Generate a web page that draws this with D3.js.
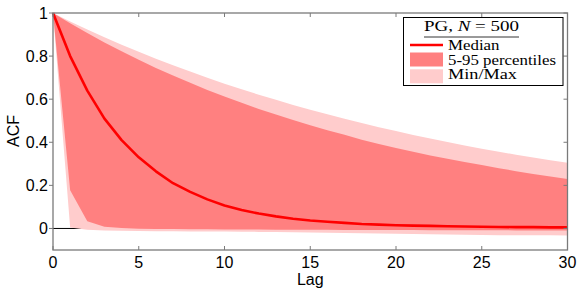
<!DOCTYPE html>
<html><head><meta charset="utf-8">
<script src="https://cdn.jsdelivr.net/npm/d3@7"></script>
<style>body{margin:0;background:#fff}svg{display:block}</style>
</head><body>
<svg id="c" width="581" height="292"></svg>
<script>
const lags = d3.range(0, 31);
const median = [1, 0.80, 0.64, 0.51, 0.41, 0.33, 0.265, 0.21, 0.17, 0.135, 0.107, 0.086, 0.069, 0.056, 0.045, 0.037, 0.031, 0.026, 0.021, 0.018, 0.015, 0.013, 0.012, 0.010, 0.009, 0.008, 0.007, 0.006, 0.006, 0.005, 0.005];
const p95 = [1, 0.952, 0.907, 0.863, 0.822, 0.783, 0.745, 0.710, 0.676, 0.643, 0.613, 0.583, 0.555, 0.529, 0.503, 0.479, 0.456, 0.435, 0.412, 0.392, 0.373, 0.356, 0.339, 0.323, 0.308, 0.294, 0.280, 0.266, 0.253, 0.241, 0.229];
const p5 = [1, 0.177, 0.033, 0.008, 0.002, -0.001, -0.002, -0.003, -0.004, -0.004, -0.005, -0.005, -0.005, -0.006, -0.006, -0.006, -0.006, -0.007, -0.007, -0.007, -0.007, -0.007, -0.008, -0.008, -0.008, -0.008, -0.008, -0.009, -0.009, -0.009, -0.009];
const maxv = [1, 0.961, 0.924, 0.888, 0.853, 0.820, 0.788, 0.757, 0.728, 0.699, 0.672, 0.646, 0.621, 0.597, 0.573, 0.551, 0.530, 0.509, 0.489, 0.470, 0.452, 0.434, 0.417, 0.401, 0.385, 0.370, 0.356, 0.342, 0.329, 0.316, 0.305];
const minv = [1, 0.005, -0.006, -0.009, -0.011, -0.012, -0.013, -0.013, -0.014, -0.014, -0.014, -0.015, -0.016, -0.017, -0.018, -0.019, -0.020, -0.021, -0.022, -0.023, -0.024, -0.026, -0.027, -0.028, -0.029, -0.030, -0.031, -0.031, -0.032, -0.032, -0.033];
const xTicks = [0, 5, 10, 15, 20, 25, 30];
const yTicks = [0, 0.2, 0.4, 0.6, 0.8, 1];
const legendTitle = ["PG, ", "N", " = 500"];
const legendLabels = ["Median", "5-95 percentiles", "Min/Max"];

const svg = d3.select("#c");
const x = d3.scaleLinear().domain([0, 30]).range([53, 567.5]);
const y = d3.scaleLinear().domain([-0.1, 1]).range([250, 13]);
const axisCol = "#7a7a7a";
const cLight = "#ffcccc", cDark = "#ff8080", cMed = "#ff0000";

svg.append("line").attr("x1", x(0)).attr("x2", x(30)).attr("y1", y(0)).attr("y2", y(0))
  .attr("stroke", "#000").attr("stroke-width", 1);

const area = (lo, hi) => d3.area().x((d, i) => x(lags[i])).y0((d, i) => y(lo[i])).y1((d, i) => y(hi[i]))(lags);
svg.append("path").attr("d", area(minv, maxv)).attr("fill", cLight);
svg.append("path").attr("d", area(p5, p95)).attr("fill", cDark);
svg.append("path").attr("d", d3.line().x((d, i) => x(lags[i])).y((d, i) => y(median[i]))(lags))
  .attr("fill", "none").attr("stroke", cMed).attr("stroke-width", 2.6).attr("stroke-linejoin", "round");

const g = svg.append("g");
g.append("rect").attr("x", x(0)).attr("y", y(1)).attr("width", x(30) - x(0)).attr("height", y(-0.1) - y(1))
  .attr("fill", "none").attr("stroke", axisCol).attr("stroke-width", 1.3);
xTicks.forEach(t => {
  g.append("line").attr("x1", x(t)).attr("x2", x(t)).attr("y1", y(-0.1)).attr("y2", y(-0.1) - 4).attr("stroke", axisCol).attr("stroke-width", 1);
  g.append("line").attr("x1", x(t)).attr("x2", x(t)).attr("y1", y(1)).attr("y2", y(1) + 4).attr("stroke", axisCol).attr("stroke-width", 1);
  g.append("text").attr("x", x(t)).attr("y", 268).attr("text-anchor", "middle")
    .attr("font-family", "Liberation Sans, Arial, sans-serif").attr("font-size", 16).text(t);
});
yTicks.forEach(t => {
  g.append("line").attr("x1", x(0) - 4).attr("x2", x(0)).attr("y1", y(t)).attr("y2", y(t)).attr("stroke", axisCol).attr("stroke-width", 1);
  g.append("line").attr("x1", x(30) - 4).attr("x2", x(30)).attr("y1", y(t)).attr("y2", y(t)).attr("stroke", axisCol).attr("stroke-width", 1);
  g.append("text").attr("x", 48).attr("y", y(t) + 5.8).attr("text-anchor", "end")
    .attr("font-family", "Liberation Sans, Arial, sans-serif").attr("font-size", 16).text(t);
});
svg.append("text").attr("x", x(15)).attr("y", 285).attr("text-anchor", "middle")
  .attr("font-family", "Liberation Sans, Arial, sans-serif").attr("font-size", 16).text("Lag");
svg.append("text").attr("transform", "translate(19,131) rotate(-90)").attr("text-anchor", "middle")
  .attr("font-family", "Liberation Sans, Arial, sans-serif").attr("font-size", 16).text("ACF");

const lg = svg.append("g").attr("font-family", "Liberation Serif, Times New Roman, serif").attr("font-size", 14.5);
lg.append("rect").attr("x", 403.5).attr("y", 17.5).attr("width", 159.5).attr("height", 68)
  .attr("fill", "#fff").attr("stroke", "#000").attr("stroke-width", 1);
const tt = lg.append("text").attr("x", 424).attr("y", 30.5)
  .attr("textLength", 95).attr("lengthAdjust", "spacingAndGlyphs");
legendTitle.forEach((s, i) => tt.append("tspan").attr("font-style", i === 1 ? "italic" : "normal").text(s));
lg.append("line").attr("x1", 424).attr("x2", 519).attr("y1", 37).attr("y2", 37).attr("stroke", "#000").attr("stroke-width", 0.8);
lg.append("line").attr("x1", 410).attr("x2", 443).attr("y1", 45).attr("y2", 45).attr("stroke", cMed).attr("stroke-width", 2.6);
lg.append("rect").attr("x", 410).attr("y", 52.5).attr("width", 33).attr("height", 14).attr("fill", cDark);
lg.append("rect").attr("x", 410).attr("y", 69.3).attr("width", 33).attr("height", 14).attr("fill", cLight);
const by = [50, 64.5, 79];
const lw = [51.5, 108, 69];
legendLabels.forEach((s, i) => lg.append("text").attr("x", 448).attr("y", by[i])
  .attr("textLength", lw[i]).attr("lengthAdjust", "spacingAndGlyphs").text(s));
</script>
</body></html>
